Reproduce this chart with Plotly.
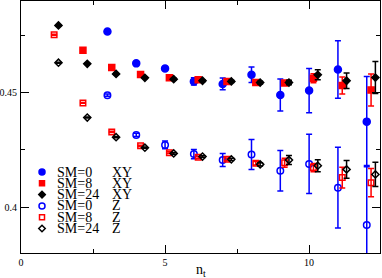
import plotly.graph_objects as go

# ---------------- data ----------------
# XY (filled symbols)
sm0_xy_n = [3, 4, 5, 6, 7, 8, 9, 10, 11, 12]
sm0_xy = [0.4768, 0.4629, 0.4607, 0.4550, 0.4539, 0.4579, 0.4491, 0.4510, 0.4602, 0.4374]
sm0_xy_err = [0.0005, 0.0006, 0.0008, 0.0016, 0.0026, 0.0034, 0.0070, 0.0097, 0.0126, 0.0197]

sm8_xy_n = [2, 3, 4, 5, 6, 7, 8, 9, 10, 11, 12]
sm8_xy = [0.4686, 0.4611, 0.4580, 0.4566, 0.4557, 0.4550, 0.4545, 0.4543, 0.4564, 0.4532, 0.4512]
sm8_xy_err = [0.0002, 0.0003, 0.0003, 0.0004, 0.0005, 0.0006, 0.0007, 0.0010, 0.0020, 0.0037, 0.0070]

sm24_xy_n = [1, 2, 3, 4, 5, 6, 7, 8, 9, 10, 11, 12]
sm24_xy = [0.4795, 0.4627, 0.4583, 0.4566, 0.4560, 0.4553, 0.4550, 0.4545, 0.4545, 0.4579, 0.4553, 0.4567]
sm24_xy_err = [0.0002, 0.0002, 0.0003, 0.0003, 0.0004, 0.0004, 0.0005, 0.0006, 0.0010, 0.0022, 0.0034, 0.0070]

# Z (open symbols)
sm0_z_n = [3, 4, 5, 6, 7, 8, 9, 10, 11, 12]
sm0_z = [0.4490, 0.4316, 0.4272, 0.4232, 0.4206, 0.4230, 0.4159, 0.4189, 0.4085, 0.3922]
sm0_z_err = [0.0005, 0.0007, 0.0017, 0.0020, 0.0028, 0.0066, 0.0089, 0.0130, 0.0177, 0.0260]

sm8_z_n = [1, 2, 3, 4, 5, 6, 7, 8, 9, 10, 11, 12]
sm8_z = [0.4754, 0.4456, 0.4329, 0.4268, 0.4238, 0.4218, 0.4209, 0.4192, 0.4194, 0.4173, 0.4129, 0.4107]
sm8_z_err = [0.0002, 0.0002, 0.0003, 0.0003, 0.0004, 0.0005, 0.0006, 0.0008, 0.0020, 0.0018, 0.0045, 0.0062]

sm24_z_n = [1, 2, 3, 4, 5, 6, 7, 8, 9, 10, 11, 12]
sm24_z = [0.4632, 0.4392, 0.4306, 0.4260, 0.4235, 0.4221, 0.4209, 0.4187, 0.4206, 0.4181, 0.4165, 0.4143]
sm24_z_err = [0.0002, 0.0002, 0.0003, 0.0003, 0.0004, 0.0004, 0.0005, 0.0007, 0.0020, 0.0026, 0.0039, 0.0053]

# horizontal offsets of the smearing levels
offsets = {"SM=0": 0.0, "SM=8": 0.15, "SM=24": 0.30}

legend_sm = ["SM=0", "SM=8", "SM=24", "SM=0", "SM=8", "SM=24"]
legend_dir = ["XY", "XY", "XY", "Z", "Z", "Z"]

x_ticks = [0, 5, 10]
y_ticks = [0.4, 0.45]
y_ticktext = ["0.4", "0.45"]

# ---------------- styles ----------------
BLUE = "#0000ff"
RED = "#ff0000"
BLACK = "#000000"
FONT = "Liberation Serif"

series = [
    ("SM=0", "XY", sm0_xy_n, sm0_xy, sm0_xy_err, BLUE, "circle", 7, 6),
    ("SM=8", "XY", sm8_xy_n, sm8_xy, sm8_xy_err, RED, "square", 6, 5),
    ("SM=24", "XY", sm24_xy_n, sm24_xy, sm24_xy_err, BLACK, "diamond", 5.5, 5),
    ("SM=0", "Z", sm0_z_n, sm0_z, sm0_z_err, BLUE, "circle-open", 6.5, 6),
    ("SM=8", "Z", sm8_z_n, sm8_z, sm8_z_err, RED, "square-open", 5.5, 5),
    ("SM=24", "Z", sm24_z_n, sm24_z, sm24_z_err, BLACK, "diamond-open", 5.5, 5),
]

fig = go.Figure()
for sm, d, xs, ys, es, col, sym, sz, lsz in series:
    fig.add_trace(go.Scatter(
        x=[v + offsets[sm] for v in xs], y=ys,
        mode="markers",
        name=f"{sm} {d}",
        marker=dict(symbol=sym, size=sz, color=col, line=dict(color=col, width=1.5)),
        error_y=dict(type="data", array=es, visible=True, color=col, thickness=1.5, width=3),
        showlegend=False,
        cliponaxis=True,
    ))

# ---------------- custom legend (tight rows) ----------------
W, H = 382, 278
PL, PR, PT, PB = 21, 380, 1, 253
def px_to_paper_x(px):
    return (px - PL) / (PR - PL)
def px_to_paper_y(py):
    return (PB - py) / (PB - PT)

row0, drow = 172.0, 11.3
leg_x = [px_to_paper_x(42)] * len(series)
leg_y = [px_to_paper_y(row0 + i * drow) for i in range(len(series))]
for i, (sm, d, xs, ys, es, col, sym, sz, lsz) in enumerate(series):
    fig.add_trace(go.Scatter(
        x=[leg_x[i]], y=[leg_y[i]], xaxis="x2", yaxis="y2", mode="markers",
        marker=dict(symbol=sym, size=lsz, color=col, line=dict(color=col, width=1.5)),
        showlegend=False, hoverinfo="skip",
    ))
    fig.add_annotation(x=px_to_paper_x(56), y=leg_y[i], xref="paper", yref="paper",
                       text=legend_sm[i], showarrow=False, xanchor="left", yanchor="middle",
                       borderpad=0,
                       font=dict(family=FONT, size=14, color="black"))
    fig.add_annotation(x=px_to_paper_x(111), y=leg_y[i], xref="paper", yref="paper",
                       text=legend_dir[i], showarrow=False, xanchor="left", yanchor="middle",
                       borderpad=0,
                       font=dict(family=FONT, size=14, color="black"))

# x-axis title as an annotation for exact placement
fig.add_annotation(x=0.5, y=px_to_paper_y(270), xref="paper", yref="paper",
                   text="n<sub>t</sub>", showarrow=False, xanchor="center", yanchor="middle",
                   borderpad=0, font=dict(family=FONT, size=14, color="black"))

axis_common = dict(
    showline=True, linecolor="black", linewidth=1, mirror="ticks",
    ticks="inside", ticklen=8, tickwidth=1, tickcolor="black",
    showgrid=False, zeroline=False, automargin=False,
    tickfont=dict(family=FONT, size=10, color="black"),
)

fig.update_layout(
    width=W, height=H,
    margin=dict(l=PL, r=W - PR, t=PT, b=H - PB),
    paper_bgcolor="white", plot_bgcolor="white",
    xaxis=dict(range=[0, 12.46], tickvals=x_ticks, ticktext=[str(v) for v in x_ticks],
               minor=dict(dtick=2.5, tick0=0, ticks="inside", ticklen=4, tickcolor="black", showgrid=False),
               **axis_common),
    yaxis=dict(range=[0.3799, 0.4902], tickvals=y_ticks, ticktext=y_ticktext,
               minor=dict(dtick=0.025, tick0=0.375, ticks="inside", ticklen=4, tickcolor="black", showgrid=False),
               ticklabelstandoff=1,
               **axis_common),
    xaxis2=dict(range=[0, 1], overlaying="x", visible=False),
    yaxis2=dict(range=[0, 1], overlaying="y", visible=False),
    font=dict(family=FONT, color="black"),
)

fig.write_html(
    "out.html",
    config={"displayModeBar": False},
    post_script="document.body.style.margin='0';document.body.style.overflow='hidden';",
)
